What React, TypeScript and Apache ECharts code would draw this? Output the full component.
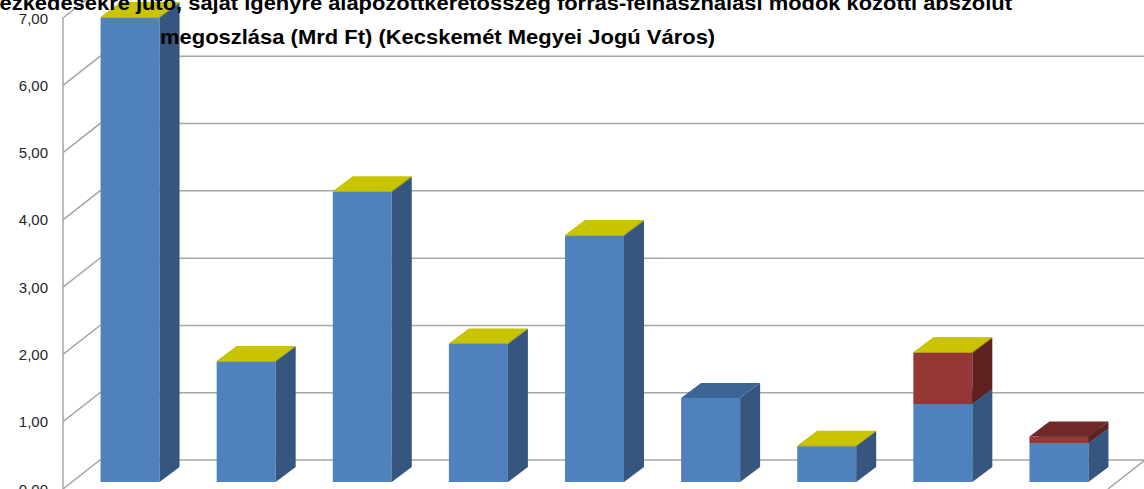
import React, { useEffect, useRef } from "react";
import * as echarts from "echarts";

const categories = ["1", "2", "3", "4", "5", "6", "7", "8", "9"];
const yTicks = [0, 1, 2, 3, 4, 5, 6, 7];
const blueValues = [6.9, 1.79, 4.31, 2.05, 3.66, 1.25, 0.53, 1.16, 0.575];
const redValues = [0, 0, 0, 0, 0, 0, 0, 0.76, 0.1];
const yellowValues = [0.01, 0.01, 0.01, 0.01, 0.01, 0, 0.01, 0.01, 0];

const titleLine1 =
  "ezkedésekre jutó, saját igényre alapozottkeretösszeg forrás-felhasználási módok közötti abszolút";
const titleLine2 = "megoszlása (Mrd Ft) (Kecskemét Megyei Jogú Város)";

const BAR_OFF = [9, -7];
const BAR_DEPTH = [20, -15];
const WALL_DEPTH = [37, -29];

function stackRows(values: number[], bases: number[]) {
  return values.map((v, i) => [i, bases[i], bases[i] + v]);
}

function barSeries(name: string, data: number[][], front: string, side: string, top: string) {
  return {
    type: "custom",
    name,
    z: 3,
    data,
    encode: { x: 0, y: [1, 2] },
    renderItem: (params: any, api: any) => {
      const i = api.value(0);
      const b = api.value(1);
      const t = api.value(2);
      if (!(t - b > 0)) return null;
      const pb = api.coord([i, b]);
      const pt = api.coord([i, t]);
      const w = api.size([1, 0])[0] * 0.508;
      const x0 = pb[0] - w / 2 + BAR_OFF[0];
      const x1 = x0 + w;
      const yb = pb[1] + BAR_OFF[1];
      const yt = pt[1] + BAR_OFF[1];
      const dx = BAR_DEPTH[0];
      const dy = BAR_DEPTH[1];
      return {
        type: "group",
        children: [
          {
            type: "polygon",
            shape: { points: [[x0, yb], [x1, yb], [x1, yt], [x0, yt]] },
            style: { fill: front },
          },
          {
            type: "polygon",
            shape: { points: [[x1, yb], [x1 + dx, yb + dy], [x1 + dx, yt + dy], [x1, yt]] },
            style: { fill: side },
          },
          {
            type: "polygon",
            shape: { points: [[x0, yt], [x1, yt], [x1 + dx, yt + dy], [x0 + dx, yt + dy]] },
            style: { fill: top },
          },
        ],
      };
    },
  };
}

function measure(text: string, font: string, fallback: number) {
  const c = document.createElement("canvas").getContext("2d");
  if (!c) return fallback;
  c.font = font;
  return c.measureText(text).width;
}

export default function App() {
  const ref = useRef<HTMLDivElement>(null);
  useEffect(() => {
    if (!ref.current) return;
    const chart = echarts.init(ref.current, undefined, { renderer: "svg" });
    const zero = blueValues.map(() => 0);
    const blueRows = stackRows(blueValues, zero);
    const redBase = blueValues.slice();
    const redRows = stackRows(redValues, redBase);
    const yBase = blueValues.map((v, i) => v + redValues[i]);
    const yellowRows = stackRows(yellowValues, yBase);

    const titleFont = '"Liberation Sans", Arial, sans-serif';
    const f = `bold 20px ${titleFont}`;
    const s2 = 555 / measure(titleLine2, f, 555);
    const s1 = 1013 / measure(titleLine1, f, 1013);

    chart.setOption({
      animation: false,
      grid: {
        left: 63,
        right: 36,
        top: 18,
        bottom: 0,
        containLabel: false,
        outerBoundsMode: "none",
      },
      xAxis: { type: "category", data: categories, show: false },
      yAxis: {
        type: "value",
        min: 0,
        max: 7,
        interval: 1,
        axisLine: { show: true, lineStyle: { color: "#a6a6a6", width: 1.5 } },
        axisTick: { show: false },
        splitLine: { show: false },
        axisLabel: {
          margin: 15,
          fontSize: 15,
          color: "#262626",
          fontFamily: "Liberation Sans, Arial, sans-serif",
          formatter: (v: number) => v.toFixed(2).replace(".", ","),
        },
      },
      series: [
        {
          type: "custom",
          name: "grid",
          z: 1,
          silent: true,
          data: yTicks.map((v) => [0, v]),
          encode: { x: 0, y: 1 },
          renderItem: (params: any, api: any) => {
            const v = api.value(1);
            const p = api.coord([0, v]);
            const cs = params.coordSys;
            const xl = cs.x;
            const xr = cs.x + cs.width;
            const y = p[1];
            const pts: number[][] = [
              [xl, y],
              [xl + WALL_DEPTH[0], y + WALL_DEPTH[1]],
              [xr + WALL_DEPTH[0], y + WALL_DEPTH[1]],
            ];
            if (v === 0) pts.push([xr, y]);
            return {
              type: "polyline",
              shape: { points: pts },
              style: { stroke: "#a6a6a6", lineWidth: 1.5, fill: null },
            };
          },
        },
        barSeries("blue", blueRows, "#4f81bd", "#34567f", "#3c6494"),
        barSeries("red", redRows, "#953735", "#5e2120", "#712927"),
        barSeries("yellow", yellowRows, "#c8c400", "#9a9700", "#c8c400"),
      ],
      graphic: [
        {
          type: "text",
          x: 1012,
          y: 3,
          scaleX: s1,
          z: 100,
          style: {
            text: titleLine1,
            fontSize: 20,
            fontWeight: "bold",
            fontFamily: titleFont,
            fill: "#000",
            align: "right",
            verticalAlign: "middle",
          },
        },
        {
          type: "text",
          x: 160,
          y: 36.5,
          scaleX: s2,
          z: 100,
          style: {
            text: titleLine2,
            fontSize: 20,
            fontWeight: "bold",
            fontFamily: titleFont,
            fill: "#000",
            align: "left",
            verticalAlign: "middle",
          },
        },
      ],
    });
    return () => chart.dispose();
  }, []);
  return (
    <div
      ref={ref}
      style={{ position: "fixed", left: 0, top: 0, width: 1144, height: 489, background: "#fff" }}
    />
  );
}
